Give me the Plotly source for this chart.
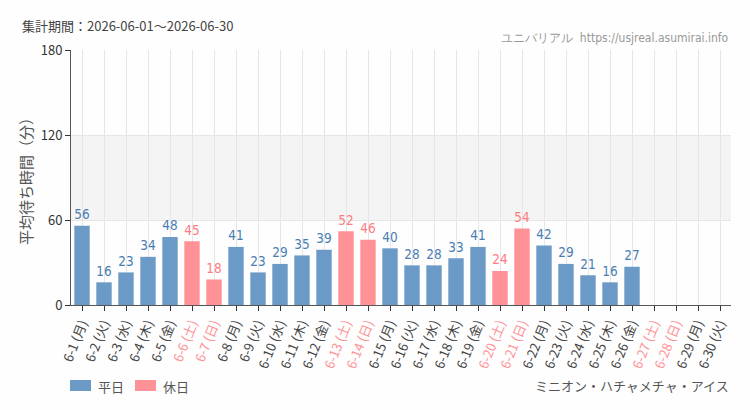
import plotly.graph_objects as go

days = list(range(1, 31))
weekdays = ["月","火","水","木","金","土","日"]
values = [56,16,23,34,48,45,18,41,23,29,35,39,52,46,40,28,28,33,41,24,54,42,29,21,16,27,None,None,None,None]
holidays = [6,7,13,14,20,21,27,28]

BLUE = "#6b9ac6"
BLUE_T = "#4a7db3"
PINK = "#ff9296"
PINK_T = "#ff7c82"

cats = [f"6-{d} ({weekdays[(d-1)%7]})" for d in days]
is_hol = [d in holidays for d in days]
ticktext = [f'<span style="color:{PINK}">{c}</span>' if h else c for c, h in zip(cats, is_hol)]

COND = "DejaVu Sans Condensed, Liberation Sans Narrow, Roboto, sans-serif"

fig = go.Figure()
fig.add_trace(go.Bar(
    x=cats, y=values,
    marker=dict(color=[PINK if h else BLUE for h in is_hol], line=dict(width=0)),
    text=[str(v) if v is not None else "" for v in values],
    textposition="outside",
    textfont=dict(family=COND, size=15,
                  color=[PINK_T if h else BLUE_T for h in is_hol]),
    cliponaxis=False,
    showlegend=False,
))

fig.add_shape(type="rect", xref="paper", yref="y", x0=0, x1=1, y0=60, y1=120,
              fillcolor="#f4f4f4", line=dict(width=0), layer="below")

# manual legend
fig.add_shape(type="rect", xref="paper", yref="paper",
              x0=(70-71)/660, x1=(91-71)/660, y0=(305-391)/255, y1=(305-380)/255,
              fillcolor=BLUE, line=dict(width=0))
fig.add_shape(type="rect", xref="paper", yref="paper",
              x0=(135-71)/660, x1=(156-71)/660, y0=(305-391)/255, y1=(305-380)/255,
              fillcolor=PINK, line=dict(width=0))
fig.add_annotation(text="平日", xref="paper", yref="paper", x=(96-71)/660, y=(305-386)/255,
                   xanchor="left", yanchor="middle", showarrow=False,
                   font=dict(family="Noto Sans CJK JP", size=13, color="#555"))
fig.add_annotation(text="休日", xref="paper", yref="paper", x=(161-71)/660, y=(305-386)/255,
                   xanchor="left", yanchor="middle", showarrow=False,
                   font=dict(family="Noto Sans CJK JP", size=13, color="#555"))

fig.add_annotation(text="集計期間：2026-06-01～2026-06-30", xref="paper", yref="paper",
                   x=(20-71)/660, y=(305-26)/255, xanchor="left", yanchor="middle", showarrow=False,
                   font=dict(family="Noto Sans CJK JP", size=13, color="#444"))
fig.add_annotation(text="ユニバリアル  https://usjreal.asumirai.info", xref="paper", yref="paper",
                   x=1, y=(305-38)/255, xanchor="right", yanchor="middle", showarrow=False,
                   font=dict(family=COND, size=12, color="#999"))
fig.add_annotation(text="ミニオン・ハチャメチャ・アイス", xref="paper", yref="paper",
                   x=1, y=(305-385)/255, xanchor="right", yanchor="middle", showarrow=False,
                   font=dict(family="Noto Sans CJK JP", size=13, color="#555"))

fig.update_layout(
    width=750, height=410,
    margin=dict(l=71, r=19, t=50, b=105),
    paper_bgcolor="#fdfefd", plot_bgcolor="#fdfefd",
    bargap=0.3,
    font=dict(family="Noto Sans CJK JP, sans-serif", size=13, color="#333"),
    xaxis=dict(type="category", tickmode="array", tickvals=cats, ticktext=ticktext,
               tickangle=-68, showgrid=True, gridcolor="#e6e6e6", gridwidth=1,
               showline=True, linecolor="#555", linewidth=1,
               ticks="outside", ticklen=5, tickcolor="#333",
               tickfont=dict(size=13, color="#444"), range=[-0.5, 29.5], fixedrange=True),
    yaxis=dict(range=[0, 180], tickvals=[0, 60, 120, 180], showgrid=True, gridcolor="#e6e6e6",
               showline=True, linecolor="#555", linewidth=1, zeroline=False,
               ticks="outside", ticklen=5, tickcolor="#333",
               tickfont=dict(size=13, color="#333"),
               title=dict(text="平均待ち時間（分）", font=dict(size=15, color="#555"), standoff=4)),
)

fig.write_html("out.html")
